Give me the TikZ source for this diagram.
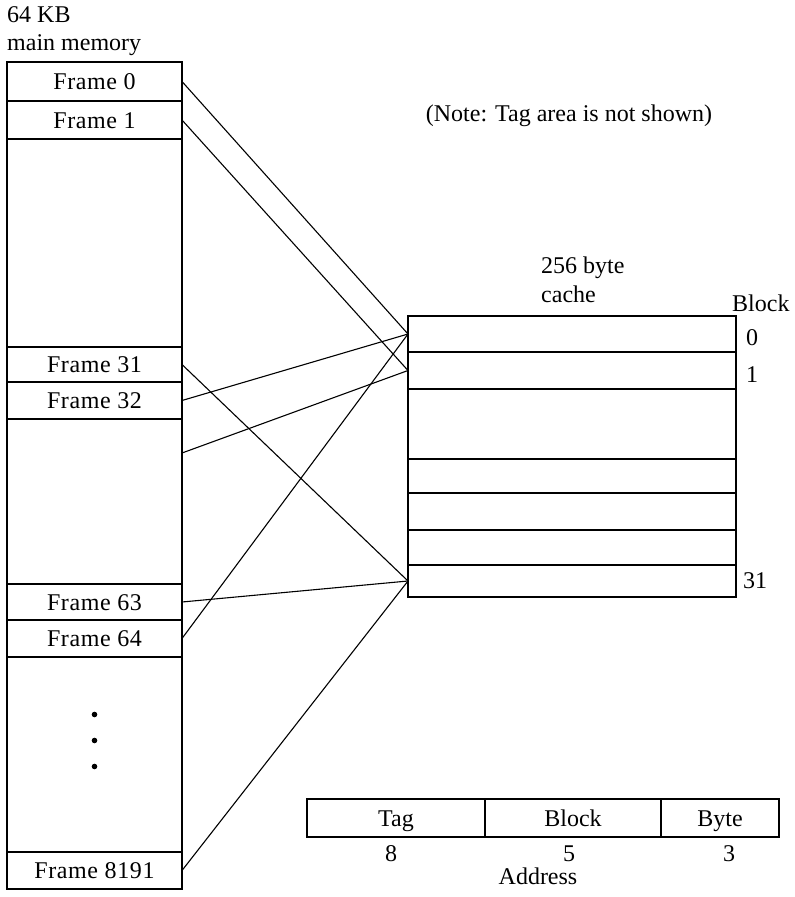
\documentclass[tikz,border=0pt]{standalone}
\usepackage{fontspec}
\setmainfont{Liberation Serif}
\newfontfamily\framefont[LetterSpace=2.5]{Liberation Serif}
\begin{document}
\begin{tikzpicture}[x=1pt,y=-1pt,
  every node/.style={font=\fontsize{24}{27}\selectfont},
  cell/.style={draw,line width=1.1pt,inner sep=0pt,outer sep=0pt,
    text height=19pt,text depth=3pt},
  memcell/.style={cell,minimum width=175pt,font=\fontsize{24}{27}\framefont},
  cachecell/.style={cell,minimum width=328pt},
  addrcell/.style={cell,minimum height=38pt},
  lbl/.style={inner sep=0pt,anchor=base west},
  clbl/.style={inner sep=0pt,anchor=base},
  link/.style={line width=1.1pt}]
\useasboundingbox (0,0) rectangle (795,897);
% main memory
\node[lbl] (kb) at (7,22) {64 KB};
\node[lbl] (mm) at (7,50) {main memory};
\node[memcell,minimum height=39pt]  (f0)    at (94.5,81.5)  {Frame 0};
\node[memcell,minimum height=38pt]  (f1)    at (94.5,120)   {Frame 1};
\node[memcell,minimum height=208pt] (g1)    at (94.5,243)   {};
\node[memcell,minimum height=35pt]  (f31)   at (94.5,364.5) {Frame 31};
\node[memcell,minimum height=37pt]  (f32)   at (94.5,400.5) {Frame 32};
\node[memcell,minimum height=165pt] (g2)    at (94.5,501.5) {};
\node[memcell,minimum height=36pt]  (f63)   at (94.5,602)   {Frame 63};
\node[memcell,minimum height=37pt]  (f64)   at (94.5,638.5) {Frame 64};
\node[memcell,minimum height=195pt] (g3)    at (94.5,754.5) {};
\node[memcell,minimum height=37pt]  (f8191) at (94.5,870.5) {Frame 8191};
\fill (g3.center) ++(0,-40) circle (2.8pt) ++(0,26) circle (2.8pt) ++(0,26) circle (2.8pt);
\coordinate (f33) at (182,453);
% note
\node[clbl] (note) at (569,121) {(Note: Tag area is not shown)};
% cache
\node[lbl] (cb1) at (541,273) {256 byte};
\node[lbl] (cb2) at (541,302) {cache};
\node[lbl] (bh) at (732,311) {Block};
\node[cachecell,minimum height=36pt] (c0)  at (572,334)   {};
\node[cachecell,minimum height=37pt] (c1)  at (572,370.5) {};
\node[cachecell,minimum height=70pt] (cg)  at (572,424)   {};
\node[cachecell,minimum height=34pt] (c2)  at (572,476)   {};
\node[cachecell,minimum height=37pt] (c3)  at (572,511.5) {};
\node[cachecell,minimum height=35pt] (c4)  at (572,547.5) {};
\node[cachecell,minimum height=32pt] (c31) at (572,581)   {};
\node[lbl] (n0)  at (746,345) {0};
\node[lbl] (n1)  at (746,382) {1};
\node[lbl] (n31) at (743,588) {31};
% connectors
\draw[link] (f0.east)    -- (c0.west);
\draw[link] (f1.east)    -- (c1.west);
\draw[link] (f31.east)   -- (c31.west);
\draw[link] (f32.east)   -- (c0.west);
\draw[link] (f33)        -- (c1.west);
\draw[link] (f63.east)   -- (c31.west);
\draw[link] (f64.east)   -- (c0.west);
\draw[link] (f8191.east) -- (c31.west);
% address
\node[addrcell,minimum width=178pt] (tag)  at (396,818) {Tag};
\node[addrcell,minimum width=176pt] (blk)  at (573,818) {Block};
\node[addrcell,minimum width=118pt] (byte) at (720,818) {Byte};
\node[clbl] (b8) at (391,861) {8};
\node[clbl] (b5) at (569,861) {5};
\node[clbl] (b3) at (729,861) {3};
\node[clbl] (addr) at (538,884) {Address};
\end{tikzpicture}
\end{document}
